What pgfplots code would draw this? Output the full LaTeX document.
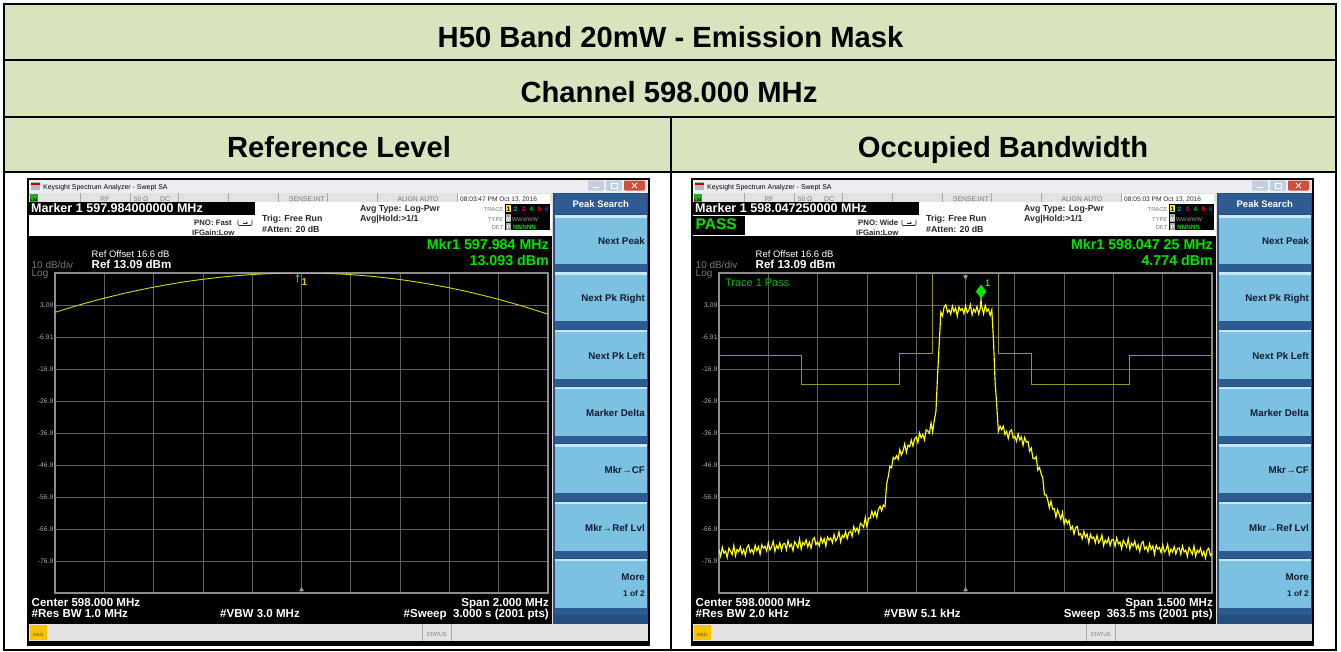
\documentclass[border=0pt]{standalone}
\usepackage{fontspec}
\setmainfont{Liberation Sans}
\usepackage{pgfplots}
\pgfplotsset{compat=1.18}
\usetikzlibrary{arrows.meta}

\definecolor{hdrgreen}{RGB}{215,228,189}
\definecolor{titlebar}{RGB}{236,238,241}
\definecolor{statusbg}{RGB}{226,226,226}
\definecolor{statusline}{RGB}{170,170,170}
\definecolor{winbtn}{RGB}{196,206,222}
\definecolor{winclose}{RGB}{205,80,60}
\definecolor{lxigreen}{RGB}{40,170,40}
\definecolor{panelblue}{RGB}{36,78,128}
\definecolor{hdrblue}{RGB}{46,92,145}
\definecolor{btnblue}{RGB}{124,193,226}
\definecolor{btnhi}{RGB}{200,232,247}
\definecolor{btndark}{RGB}{44,92,145}
\definecolor{btntext}{RGB}{18,28,48}
\definecolor{msgbg}{RGB}{228,226,228}
\definecolor{msgyellow}{RGB}{248,196,0}
\definecolor{mkgreen}{RGB}{0,230,0}
\definecolor{infotext}{RGB}{40,40,40}
\definecolor{dimtext}{RGB}{120,120,120}
\definecolor{gridgray}{RGB}{95,95,95}
\definecolor{bordergray}{RGB}{140,140,140}
\definecolor{traceyel}{RGB}{255,255,0}
\definecolor{domeyel}{RGB}{215,215,0}
\definecolor{maskolive}{RGB}{150,150,40}
\definecolor{ticklbl}{RGB}{170,170,170}

\newcommand{\fs}[1]{\fontsize{#1}{#1}\selectfont}
\tikzset{t/.style={inner sep=0pt, text height=0.72em, text depth=0pt}}

\pgfplotsset{scr/.style={
  scale only axis, width=493bp, height=320bp, anchor=south west,
  ymin=-86.91, ymax=13.09,
  xticklabels={},
  ytick={-86.91,-76.91,-66.91,-56.91,-46.91,-36.91,-26.91,-16.91,-6.91,3.09,13.09},
  yticklabels={,-76.9,-66.9,-56.9,-46.9,-36.9,-26.9,-16.9,-6.91,3.09,},
  grid=major, major grid style={draw=gridgray, line width=0.8bp},
  major tick length=0pt,
  axis line style={draw=bordergray, line width=1.6bp},
  axis background/.style={fill=black},
  yticklabel style={font=\fs{6.8}, text=ticklbl, inner sep=1.5bp},
}}

% #1 time, #2 marker line, #3 PNO
\newcommand{\screenbase}[3]{%
\fill[black] (27,-178) rectangle (650,-646);
\fill[titlebar] (29,-179.5) rectangle (648,-193);
\fill[gray!55] (30.5,-182) rectangle (40,-190);
\fill[red!75!black] (30.5,-183) rectangle (40,-185);
\node[t,anchor=west,font=\fs{7}] at (43,-186) {Keysight Spectrum Analyzer - Swept SA};
\fill[winbtn,rounded corners=1.2] (588,-180.5) rectangle (604,-190.5);
\fill[winbtn,rounded corners=1.2] (606,-180.5) rectangle (622,-190.5);
\fill[winclose,rounded corners=1.2] (624,-180.5) rectangle (645,-190.5);
\draw[white,line width=0.8] (593,-187)--(599,-187);
\draw[white,line width=0.6] (611,-183.5) rectangle (617,-188);
\draw[white,line width=0.9] (632,-183)--(637,-188) (632,-188)--(637,-183);
\fill[statusbg] (29,-193) rectangle (553,-202);
\foreach \x in {80,130,178,228,278,327,377,457}{\draw[statusline,line width=0.6] (\x,-193)--(\x,-202);}
\fill[white] (457.5,-193.5) rectangle (550,-201.5);
\fill[lxigreen] (29.5,-193.5) rectangle (38,-201.5);
\node[t,font=\bfseries\fs{4.2},text=black] at (33.7,-197.5) {LXI};
\node[t,font=\fs{6.8},text=dimtext] at (105,-197.7) {RF};
\node[t,font=\fs{6.8},text=dimtext] at (141,-197.7) {50 Ω};
\node[t,font=\fs{6.8},text=dimtext] at (165,-197.7) {DC};
\node[t,font=\fs{6.8},text=dimtext] at (307,-197.7) {SENSE:INT};
\node[t,font=\fs{6.8},text=dimtext] at (418,-197.7) {ALIGN AUTO};
\node[t,anchor=west,font=\fs{6.6},text=infotext] at (460,-197.7) {#1};
\fill[white] (29,-202) rectangle (553,-236);
\fill[black] (29,-202) rectangle (255,-215);
\node[t,anchor=west,font=\bfseries\fs{12.6},text=white] at (31,-208.7) {#2};
\node[t,anchor=west,font=\bfseries\fs{7.8},text=infotext] at (194,-221.5) {#3};
\node[t,anchor=west,font=\bfseries\fs{7.8},text=infotext] at (192,-231.5) {IFGain:Low};
\draw[infotext,line width=0.6,rounded corners=1] (238,-220)--(238,-225.5)--(252,-225.5)--(252,-220);
\draw[infotext,line width=0.6,-{Stealth[length=2bp,width=2bp]}] (243,-223)--(248,-223);
\node[t,anchor=west,font=\bfseries\fs{8.8},text=infotext] at (262,-218.3) {Trig: Free Run};
\node[t,anchor=west,font=\bfseries\fs{8.8},text=infotext] at (262,-229) {\#Atten: 20 dB};
\node[t,anchor=west,font=\bfseries\fs{8.8},text=infotext] at (360,-208.3) {Avg Type: Log-Pwr};
\node[t,anchor=west,font=\bfseries\fs{8.8},text=infotext] at (360,-218.3) {Avg|Hold:>1/1};
% trace box
\node[t,anchor=east,font=\fs{5.8},text=dimtext] at (503.5,-208.3) {TRACE};
\node[t,anchor=east,font=\fs{5.8},text=dimtext] at (503.5,-217.7) {TYPE};
\node[t,anchor=east,font=\fs{5.8},text=dimtext] at (503.5,-226) {DET};
\fill[black] (505,-203.5) rectangle (550,-230);
\fill[yellow!90!orange] (506,-204.5) rectangle (511,-212);
\node[t,font=\bfseries\fs{6.5},text=black] at (508.5,-208.3) {1};
\node[t,font=\bfseries\fs{6.5},text=cyan] at (515.5,-208.3) {2};
\node[t,font=\bfseries\fs{6.5},text=magenta] at (523.3,-208.3) {3};
\node[t,font=\bfseries\fs{6.5},text=green!80!black] at (531.5,-208.3) {4};
\node[t,font=\bfseries\fs{6.5},text=red!80!magenta] at (539.3,-208.3) {5};
\node[t,font=\bfseries\fs{6.5},text=blue!80!white] at (546.7,-208.3) {6};
\fill[gray!70] (506,-213.5) rectangle (511,-221.5);
\node[t,font=\bfseries\fs{6},text=white] at (508.5,-217.6) {M};
\node[t,anchor=west,font=\fs{5.5},text=gray!80] at (512,-217.6) {WWWWW};
\fill[gray!70] (506,-222.5) rectangle (511,-229.5);
\node[t,font=\bfseries\fs{6},text=white] at (508.5,-226) {P};
\node[t,anchor=west,font=\bfseries\fs{6.3},text=green!85!black] at (513,-226) {NNNNN};
% display area
\fill[black] (29,-236) rectangle (553,-624);
\node[t,anchor=west,font=\fs{9.5},text=white] at (91.5,-254) {Ref Offset 16.6 dB};
\node[t,anchor=west,font=\fs{10},text=dimtext] at (31.5,-264.5) {10 dB/div};
\node[t,anchor=west,font=\bfseries\fs{11.6},text=white] at (91.5,-264.5) {Ref 13.09 dBm};
\node[t,anchor=west,font=\fs{10},text=dimtext] at (31.5,-272.5) {Log};
% softkeys
\fill[panelblue] (553,-193) rectangle (648,-624);
\draw[gray!25,line width=1.5] (552.7,-193)--(552.7,-624);
\fill[hdrblue] (554.5,-194) rectangle (647,-213.5);
\node[t,font=\bfseries\fs{9.5},text=white] at (600.8,-203.5) {Peak Search};
\foreach \i/\lab in {0/Next Peak,1/Next Pk Right,2/Next Pk Left,3/Marker Delta,4/Mkr→CF,5/Mkr→Ref Lvl,6/}{
  \pgfmathsetmacro\tp{215+57.3*\i}
  \fill[btnblue] (554.5,-\tp) rectangle (647,-\tp-49);
  \fill[btnhi] (554.5,-\tp) rectangle (647,-\tp-2.5);
  \fill[btndark] (554.5,-\tp-49) rectangle (647,-\tp-56.5);
  \node[t,anchor=east,font=\bfseries\fs{9.8},text=btntext] at (645,-\tp-26) {\lab};
}
\node[t,anchor=east,font=\bfseries\fs{9.8},text=btntext] at (645,-577) {More};
\node[t,anchor=east,font=\bfseries\fs{8.3},text=btntext] at (645,-593) {1 of 2};
% msg bar
\fill[msgbg] (29,-624) rectangle (648,-641);
\fill[msgyellow] (29.5,-625) rectangle (47,-640);
\node[t,font=\fs{4.5},text=black!70] at (38.2,-632.5) {MSG};
\draw[statusline] (422,-624)--(422,-641) (451,-624)--(451,-641);
\node[t,font=\fs{5.4},text=dimtext] at (436.5,-632.7) {STATUS};
}

\begin{document}
\begin{tikzpicture}[x=1bp,y=1bp]
\useasboundingbox (0,0) rectangle (1341,-652);
\fill[white] (0,0) rectangle (1341,-652);
% table
\fill[hdrgreen] (4,-4) rectangle (1336,-172);
\draw[black,line width=2] (4,-60)--(1336,-60) (4,-117)--(1336,-117) (4,-172)--(1336,-172) (671,-117)--(671,-650);
\draw[black,line width=2] (4,-4) rectangle (1336,-650);
\node[anchor=base,inner sep=0,font=\bfseries\fs{29.3}] at (670.5,-47.5) {H50 Band 20mW - Emission Mask};
\node[anchor=base,inner sep=0,font=\bfseries\fs{29.3}] at (669,-102.5) {Channel 598.000 MHz};
\node[anchor=base,inner sep=0,font=\bfseries\fs{29.3}] at (339,-157.5) {Reference Level};
\node[anchor=base,inner sep=0,font=\bfseries\fs{29.3}] at (1003,-157.5) {Occupied Bandwidth};

% ---------- left screen ----------
\screenbase{08:03:47 PM Oct 13, 2016}{Marker 1 597.984000000 MHz}{PNO: Fast}
\node[t,anchor=east,font=\bfseries\fs{14.3},text=mkgreen] at (549,-245.5) {Mkr1 597.984 MHz};
\node[t,anchor=east,font=\bfseries\fs{14.3},text=mkgreen] at (549,-261.5) {13.093 dBm};
\node[t,anchor=west,font=\bfseries\fs{11.6},text=white] at (31.5,-602.5) {Center 598.000 MHz};
\node[t,anchor=west,font=\bfseries\fs{11.6},text=white] at (31.5,-614.3) {\#Res BW 1.0 MHz};
\node[t,anchor=west,font=\bfseries\fs{11.6},text=white] at (220,-614.3) {\#VBW 3.0 MHz};
\node[t,anchor=east,font=\bfseries\fs{11.6},text=white] at (549,-602.5) {Span 2.000 MHz};
\node[t,anchor=east,font=\bfseries\fs{11.6},text=white] at (549,-614.3) {\#Sweep\ \ 3.000 s (2001 pts)};

\begin{axis}[scr, at={(55bp,-593bp)},
  xmin=597, xmax=599,
  xtick={597,597.2,597.4,597.6,597.8,598,598.2,598.4,598.6,598.8,599}]
\addplot[domeyel, line width=0.9bp, smooth] coordinates {
(597.0,0.80) (597.1,3.14) (597.2,5.23) (597.3,7.07) (597.4,8.67) (597.5,10.03)
(597.6,11.13) (597.7,11.99) (597.8,12.61) (597.9,12.98) (597.984,13.093) (598.0,13.09)
(598.1,12.97) (598.2,12.58) (598.3,11.94) (598.4,11.04) (598.5,9.88) (598.6,8.46)
(598.7,6.78) (598.8,4.84) (598.9,2.65) (599.0,0.20)};
\addplot[mkgreen, line width=1.1bp, -{Stealth[length=3.5bp,width=3.5bp]}] coordinates {(597.984,10.2) (597.984,12.9)};
\addplot[only marks, mark=triangle*, mark size=2.3, color=gray!80, mark options={fill=gray!80}] coordinates {(598,-85.9)};
\node[t,font=\bfseries\fs{10},text=domeyel] at (axis cs:598.012,10.4) {1};
\end{axis}

% ---------- right screen ----------
\begin{scope}[xshift=664bp]
\screenbase{08:05:03 PM Oct 13, 2016}{Marker 1 598.047250000 MHz}{PNO: Wide}
\fill[black] (29,-216) rectangle (81,-235);
\node[t,anchor=west,font=\bfseries\fs{15.5},text=mkgreen] at (31.5,-225.5) {PASS};
\node[t,anchor=east,font=\bfseries\fs{14.3},text=mkgreen] at (549,-245.5) {Mkr1 598.047 25 MHz};
\node[t,anchor=east,font=\bfseries\fs{14.3},text=mkgreen] at (549,-261.5) {4.774 dBm};
\node[t,anchor=west,font=\bfseries\fs{11.6},text=white] at (31.5,-602.5) {Center 598.0000 MHz};
\node[t,anchor=west,font=\bfseries\fs{11.6},text=white] at (31.5,-614.3) {\#Res BW 2.0 kHz};
\node[t,anchor=west,font=\bfseries\fs{11.6},text=white] at (220,-614.3) {\#VBW 5.1 kHz};
\node[t,anchor=east,font=\bfseries\fs{11.6},text=white] at (549,-602.5) {Span 1.500 MHz};
\node[t,anchor=east,font=\bfseries\fs{11.6},text=white] at (549,-614.3) {Sweep\ \ 363.5 ms (2001 pts)};
\end{scope}

\begin{axis}[scr, at={(719bp,-593bp)},
  xmin=597.25, xmax=598.75,
  xtick={597.25,597.4,597.55,597.7,597.85,598,598.15,598.3,598.45,598.6,598.75}]
\addplot[maskolive, line width=0.8bp] coordinates {
(597.25,-12.8) (597.5,-12.8) (597.5,-21.8) (597.8,-21.8) (597.8,-11.9) (597.9,-11.9)
(597.9,13.09) (598.1,13.09) (598.1,-11.9) (598.2,-11.9) (598.2,-21.8) (598.5,-21.8)
(598.5,-12.8) (598.75,-12.8)};
\addplot[traceyel, line width=1.15bp] coordinates {
(597.250,-73.4) (597.255,-75.4) (597.260,-72.6) (597.265,-74.5) (597.270,-73.8) (597.275,-75.8) (597.280,-72.9) (597.285,-73.8) (597.290,-74.9) (597.295,-72.1)
(597.300,-75.3) (597.305,-73.3) (597.310,-74.0) (597.315,-72.5) (597.320,-74.7) (597.325,-73.3) (597.330,-75.2) (597.335,-72.7) (597.340,-71.9) (597.345,-74.2)
(597.350,-73.3) (597.355,-74.6) (597.360,-72.0) (597.365,-73.7) (597.370,-72.4) (597.375,-74.8) (597.380,-71.9) (597.385,-72.9) (597.390,-72.3) (597.395,-73.8)
(597.400,-71.2) (597.405,-73.4) (597.410,-72.5) (597.415,-70.8) (597.420,-73.9) (597.425,-72.1) (597.430,-73.0) (597.435,-71.2) (597.440,-73.5) (597.445,-71.6)
(597.450,-71.4) (597.455,-73.4) (597.460,-70.6) (597.465,-72.5) (597.470,-71.7) (597.475,-73.7) (597.480,-70.9) (597.485,-71.7) (597.490,-72.8) (597.495,-70.0)
(597.500,-73.2) (597.505,-71.1) (597.510,-71.8) (597.515,-70.3) (597.520,-72.5) (597.525,-71.0) (597.530,-72.9) (597.535,-70.3) (597.540,-69.6) (597.545,-71.8)
(597.550,-70.9) (597.555,-72.2) (597.560,-69.6) (597.565,-71.2) (597.570,-69.9) (597.575,-72.3) (597.580,-69.4) (597.585,-70.4) (597.590,-69.7) (597.595,-71.2)
(597.600,-68.6) (597.605,-70.6) (597.610,-69.7) (597.615,-67.8) (597.620,-70.9) (597.625,-68.9) (597.630,-69.6) (597.635,-67.8) (597.640,-69.9) (597.645,-68.0)
(597.650,-67.6) (597.655,-69.2) (597.660,-66.1) (597.665,-67.7) (597.670,-66.6) (597.675,-68.2) (597.680,-65.1) (597.685,-65.6) (597.690,-66.4) (597.695,-63.3)
(597.700,-66.2) (597.705,-63.5) (597.710,-63.6) (597.715,-61.4) (597.720,-63.0) (597.725,-61.5) (597.730,-63.3) (597.735,-60.7) (597.740,-59.8) (597.745,-61.2)
(597.750,-59.4) (597.755,-59.9) (597.760,-52.8) (597.765,-50.5) (597.770,-47.3) (597.775,-47.8) (597.780,-44.5) (597.785,-45.1) (597.790,-44.0) (597.795,-45.1)
(597.800,-42.1) (597.805,-43.8) (597.810,-42.5) (597.815,-40.3) (597.820,-43.0) (597.825,-40.7) (597.830,-41.2) (597.835,-39.1) (597.840,-41.0) (597.845,-38.8)
(597.850,-38.2) (597.855,-39.9) (597.860,-36.9) (597.865,-38.4) (597.870,-37.4) (597.875,-39.1) (597.880,-35.9) (597.885,-36.3) (597.890,-37.0) (597.895,-33.8)
(597.900,-36.6) (597.905,-32.9) (597.910,-30.2) (597.915,-18.7) (597.920,-9.0) (597.925,0.9) (597.930,-0.3) (597.935,2.5) (597.940,3.2) (597.945,0.8)
(597.950,1.6) (597.955,0.2) (597.960,2.8) (597.965,1.0) (597.970,2.2) (597.975,-0.4) (597.980,2.5) (597.985,1.4) (597.990,2.0) (597.995,0.4)
(598.000,2.9) (598.005,0.7) (598.010,1.5) (598.015,3.2) (598.020,0.0) (598.025,1.8) (598.030,0.9) (598.035,2.6) (598.040,0.3) (598.045,2.1)
(598.047,4.77) (598.050,2.3) (598.055,0.3) (598.060,3.0) (598.065,1.1) (598.070,1.8) (598.075,-0.2) (598.080,1.6) (598.085,-7.8) (598.090,-20.9) (598.095,-28.2)
(598.100,-36.4) (598.105,-34.8) (598.110,-35.9) (598.115,-34.8) (598.120,-37.4) (598.125,-36.4) (598.130,-38.6) (598.135,-36.4) (598.140,-35.9) (598.145,-38.5)
(598.150,-37.9) (598.155,-39.5) (598.160,-37.2) (598.165,-39.1) (598.170,-38.1) (598.175,-40.8) (598.180,-38.3) (598.185,-39.8) (598.190,-39.5) (598.195,-42.6)
(598.200,-41.6) (598.205,-44.8) (598.210,-45.0) (598.215,-44.3) (598.220,-48.5) (598.225,-47.7) (598.230,-49.6) (598.235,-50.9) (598.240,-56.2) (598.245,-56.2)
(598.250,-57.7) (598.255,-60.3) (598.260,-58.2) (598.265,-60.7) (598.270,-60.6) (598.275,-63.2) (598.280,-60.9) (598.285,-62.3) (598.290,-63.9) (598.295,-61.7)
(598.300,-65.4) (598.305,-63.9) (598.310,-65.2) (598.315,-64.2) (598.320,-67.0) (598.325,-66.1) (598.330,-68.5) (598.335,-66.4) (598.340,-66.1) (598.345,-68.8)
(598.350,-68.4) (598.355,-70.0) (598.360,-67.7) (598.365,-69.5) (598.370,-68.5) (598.375,-71.2) (598.380,-68.6) (598.385,-69.9) (598.390,-69.4) (598.395,-71.2)
(598.400,-68.9) (598.405,-71.2) (598.410,-70.4) (598.415,-68.8) (598.420,-72.1) (598.425,-70.4) (598.430,-71.3) (598.435,-69.7) (598.440,-72.1) (598.445,-70.3)
(598.450,-70.2) (598.455,-72.3) (598.460,-69.7) (598.465,-71.6) (598.470,-71.0) (598.475,-73.1) (598.480,-70.4) (598.485,-71.4) (598.490,-72.5) (598.495,-69.9)
(598.500,-73.2) (598.505,-71.3) (598.510,-72.2) (598.515,-70.7) (598.520,-73.1) (598.525,-71.8) (598.530,-73.9) (598.535,-71.5) (598.540,-70.8) (598.545,-73.2)
(598.550,-72.5) (598.555,-74.0) (598.560,-71.5) (598.565,-73.3) (598.570,-72.2) (598.575,-74.8) (598.580,-72.0) (598.585,-73.2) (598.590,-72.7) (598.595,-74.3)
(598.600,-71.9) (598.605,-74.1) (598.610,-73.4) (598.615,-71.7) (598.620,-74.9) (598.625,-73.2) (598.630,-74.1) (598.635,-72.4) (598.640,-74.7) (598.645,-73.0)
(598.650,-72.8) (598.655,-74.8) (598.660,-72.2) (598.665,-74.1) (598.670,-73.5) (598.675,-75.5) (598.680,-72.7) (598.685,-73.7) (598.690,-74.8) (598.695,-72.2)
(598.700,-75.4) (598.705,-73.5) (598.710,-74.3) (598.715,-72.9) (598.720,-75.2) (598.725,-73.9) (598.730,-76.0) (598.735,-73.5) (598.740,-72.9) (598.745,-75.2)
(598.750,-74.5)};
\addplot[mkgreen, line width=1bp] coordinates {(598.04725,4.774) (598.04725,7.3)};
\addplot[only marks, mark=diamond*, mark size=6.5, color=mkgreen] coordinates {(598.04725,7.3)};
\addplot[only marks, mark=triangle*, mark size=2.3, color=gray!80, mark options={fill=gray!80, rotate=180}] coordinates {(598,11.9)};
\addplot[only marks, mark=triangle*, mark size=2.3, color=gray!80, mark options={fill=gray!80}] coordinates {(598,-85.9)};
\node[t,font=\fs{9.5},text=green!60!white] at (axis cs:598.068,10.0) {1};
\node[t,anchor=west,font=\fs{11},text=green!75!black] at (rel axis cs:0.012,0.97) {Trace 1 Pass};
\end{axis}
\end{tikzpicture}
\end{document}
